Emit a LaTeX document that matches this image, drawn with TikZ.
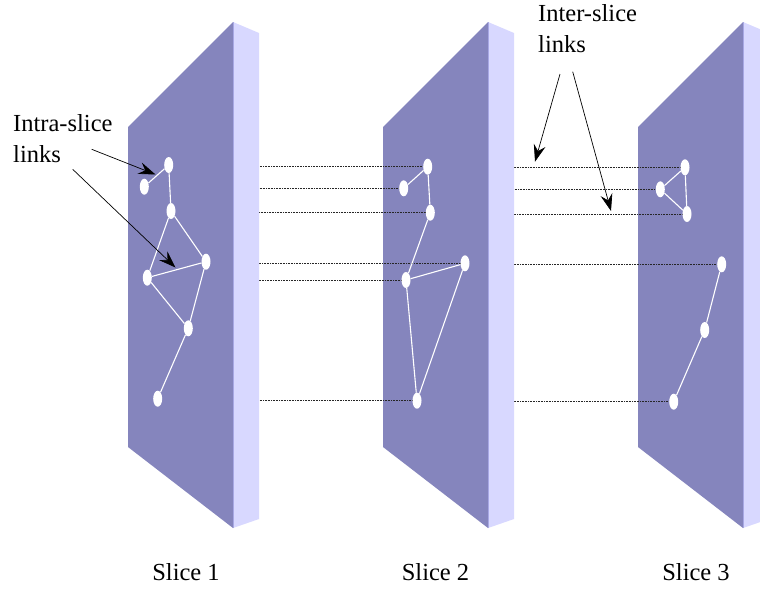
\documentclass[tikz,border=0pt]{standalone}
\usepackage{fontspec}
\setmainfont{Liberation Serif}
\usetikzlibrary{shapes.geometric,arrows.meta}
\definecolor{slabfront}{RGB}{133,133,189}
\definecolor{slabside}{RGB}{216,216,255}
\definecolor{slabedge}{RGB}{168,168,228}
\pgfdeclarelayer{paper}
\pgfdeclarelayer{sthree}
\pgfdeclarelayer{dtwothree}
\pgfdeclarelayer{stwo}
\pgfdeclarelayer{donetwo}
\pgfdeclarelayer{sone}
\pgfsetlayers{paper,sthree,dtwothree,stwo,donetwo,sone,main}
\newcommand\myslab[1]{%
  \begin{scope}[xshift=#1pt]
    \fill[slabfront] (128,127) -- (233,22) -- (233,528) -- (128,447) -- cycle;
    \fill[slabside] (233,22) -- (259,33) -- (259,519) -- (233,528) -- cycle;
    \draw[slabedge,line width=0.8pt] (233,22) -- (233,528);
  \end{scope}}
\begin{document}
\begin{tikzpicture}[x=1pt,y=-1pt,
  nd/.style={ellipse,fill=white,minimum width=9pt,minimum height=16pt,inner sep=0pt},
  intra/.style={white,line width=1.1pt},
  inter/.style={densely dotted,line width=0.6pt,black!85},
  callout/.style={line width=0.7pt,-{Stealth[length=17pt,width=12pt,inset=6pt]}},
  lbl/.style={font=\fontsize{24.5}{31.5}\selectfont,align=left,inner sep=0pt}]
\useasboundingbox (0,0) rectangle (760,590);
\begin{pgfonlayer}{paper}\fill[white] (0,0) rectangle (760,590);\end{pgfonlayer}

% slabs on layers
\begin{pgfonlayer}{sthree}\myslab{510}\end{pgfonlayer}
\begin{pgfonlayer}{stwo}\myslab{255}\end{pgfonlayer}
\begin{pgfonlayer}{sone}\myslab{0}\end{pgfonlayer}

% slice 1 nodes
\node[nd] (a1) at (168.7,165) {};
\node[nd] (b1) at (144.3,186.7) {};
\node[nd] (c1) at (171,211) {};
\node[nd] (d1) at (206,261.7) {};
\node[nd] (e1) at (147.3,277.7) {};
\node[nd] (f1) at (188.3,328.3) {};
\node[nd] (g1) at (157.7,398.7) {};
% slice 2 nodes
\node[nd] (a2) at (427.7,166.7) {};
\node[nd] (b2) at (403.7,188.3) {};
\node[nd] (c2) at (430.3,212.7) {};
\node[nd] (d2) at (465,263.3) {};
\node[nd] (e2) at (406,280) {};
\node[nd] (g2) at (417,400.7) {};
% slice 3 nodes
\node[nd] (a3) at (685,167.3) {};
\node[nd] (b3) at (660.3,189.3) {};
\node[nd] (c3) at (687,214) {};
\node[nd] (d3) at (721.7,264.3) {};
\node[nd] (f3) at (704.7,330) {};
\node[nd] (g3) at (673.7,401.7) {};

% intra-slice links
\draw[intra] (a1) -- (b1) (a1) -- (c1) (c1) -- (e1) (c1) -- (d1) (d1) -- (e1)
  (e1) -- (f1) (d1) -- (f1) (f1) -- (g1);
\draw[intra] (a2) -- (b2) (a2) -- (c2) (c2) -- (e2) (e2) -- (d2) (e2) -- (g2) (d2) -- (g2);
\draw[intra] (a3) -- (b3) (a3) -- (c3) (b3) -- (c3) (d3) -- (f3) (f3) -- (g3);

% inter-slice links
\begin{pgfonlayer}{donetwo}
\draw[inter] (a1.center) |- (a2.center);
\draw[inter] (b1.center) |- (b2.center);
\draw[inter] (c1.center) |- (c2.center);
\draw[inter] (d1.center) |- (d2.center);
\draw[inter] (e1.center) |- (e2.center);
\draw[inter] (g1.center) |- (g2.center);
\end{pgfonlayer}
\begin{pgfonlayer}{dtwothree}
\draw[inter] (a2.center) |- (a3.center);
\draw[inter] (b2.center) |- (b3.center);
\draw[inter] (c2.center) |- (c3.center);
\draw[inter] (d2.center) |- (d3.center);
\draw[inter] (g2.center) |- (g3.center);
\end{pgfonlayer}

% labels (base anchor = baseline of last line)
\node[lbl,anchor=base west] (intra) at (13,162.5) {Intra-slice\\links};
\node[lbl,anchor=base west] (inter) at (538,52.7) {Inter-slice\\links};
\node[lbl,anchor=base] (s1) at (186,580) {Slice 1};
\node[lbl,anchor=base] (s2) at (435.5,580) {Slice 2};
\node[lbl,anchor=base] (s3) at (696,580) {Slice 3};

% callout arrows
\coordinate (t1s) at (91.7,149.3);
\coordinate (t1e) at (155.5,174.5);
\coordinate (t2s) at (72.7,169.3);
\coordinate (t2e) at (175.5,267.5);
\coordinate (u1s) at (560,74);
\coordinate (u1e) at (535,161.7);
\coordinate (u2s) at (572.7,71.7);
\coordinate (u2e) at (611,211);
\draw[callout] (t1s) -- (t1e);
\draw[callout] (t2s) -- (t2e);
\draw[callout] (u1s) -- (u1e);
\draw[callout] (u2s) -- (u2e);
\end{tikzpicture}
\end{document}
